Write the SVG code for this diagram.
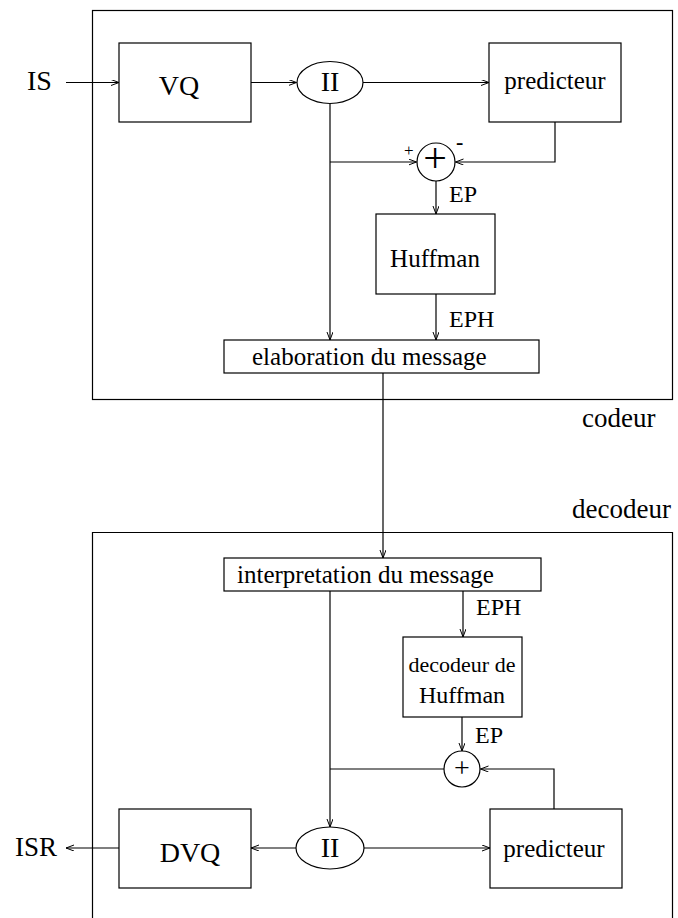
<svg xmlns="http://www.w3.org/2000/svg" width="678" height="918" viewBox="0 0 678 918">
<defs>
<marker id="arr" markerUnits="userSpaceOnUse" markerWidth="10" markerHeight="8" refX="8" refY="3" orient="auto">
<path d="M0,0 L8,3 L0,6" fill="none" stroke="#000" stroke-width="1"/>
</marker>
<style>
.b{fill:#fff;stroke:#000;stroke-width:1.2}
.c{fill:none;stroke:#000;stroke-width:1.2}
.w{fill:none;stroke:#000;stroke-width:1.2;marker-end:url(#arr)}
text{font-family:"Liberation Serif","Times New Roman",serif;fill:#000}
.L{font-size:28px}
.M{font-size:25px}
.S{font-size:24px}
.m{text-anchor:middle}
</style>
</defs>
<rect width="678" height="918" fill="#fff"/>
<g id="codeur">
<rect class="c" x="92.5" y="10.5" width="580" height="389"/>
<text class="L" x="582" y="427" style="font-size:27px">codeur</text>
</g>
<g id="decodeur">
<path class="c" d="M92.5,920 V532.5 H672.5 V920"/>
<text class="L" x="572" y="518" style="font-size:27px">decodeur</text>
</g>
<g id="connectors">
<line class="w" x1="66" y1="82.5" x2="119" y2="82.5"/>
<line class="w" x1="251" y1="82.5" x2="296.5" y2="82.5"/>
<line class="w" x1="363" y1="82.5" x2="489" y2="82.5"/>
<line class="w" x1="330" y1="104" x2="330" y2="340"/>
<line class="w" x1="330" y1="162" x2="416.5" y2="162"/>
<polyline class="w" points="555,122 555,162 455.5,162"/>
<line class="w" x1="436" y1="181" x2="436" y2="214"/>
<line class="w" x1="436" y1="294" x2="436" y2="340"/>
<line class="w" x1="383" y1="373" x2="383" y2="558"/>
<line class="w" x1="463" y1="591" x2="463" y2="637"/>
<line class="w" x1="462" y1="717" x2="462" y2="751"/>
<line class="w" x1="330" y1="591" x2="330" y2="827"/>
<line class="c" x1="330" y1="769" x2="444" y2="769"/>
<polyline class="w" points="554,809 554,769 480.5,769"/>
<line class="w" x1="296.5" y1="848" x2="251" y2="848"/>
<line class="w" x1="364" y1="848" x2="490" y2="848"/>
<line class="w" x1="119" y1="848" x2="66" y2="848"/>
</g>
<g id="IS"><text class="L" x="27" y="90">IS</text></g>
<g id="VQ">
<rect class="b" x="119" y="43" width="132" height="79"/>
<text class="L m" x="179" y="95">VQ</text>
</g>
<g id="II1">
<ellipse class="b" cx="330" cy="82.5" rx="33" ry="21"/>
<text class="L m" x="330" y="91">II</text>
</g>
<g id="pred1">
<rect class="b" x="489" y="43" width="132" height="79"/>
<text class="M m" x="555" y="89">predicteur</text>
</g>
<g id="sum1">
<circle class="b" cx="436" cy="162" r="19"/>
<text class="m" x="435" y="172" style="font-size:42px">+</text>
<text x="404" y="156" style="font-size:17px">+</text>
<text x="456" y="149" style="font-size:22px;font-weight:bold">-</text>
<text class="S" x="449" y="202">EP</text>
</g>
<g id="huffman">
<rect class="b" x="376" y="214" width="119" height="80"/>
<text class="M m" x="435" y="267">Huffman</text>
<text class="S" x="449" y="327">EPH</text>
</g>
<g id="elaboration">
<rect class="b" x="224" y="340" width="315" height="33"/>
<text class="M" x="252" y="365">elaboration du message</text>
</g>
<g id="interpretation">
<rect class="b" x="224" y="558" width="317" height="33"/>
<text class="M" x="237" y="583">interpretation du message</text>
<text class="S" x="476" y="615">EPH</text>
</g>
<g id="dechuff">
<rect class="b" x="403" y="637" width="119" height="80"/>
<text class="m" x="462" y="672" style="font-size:22px">decodeur de</text>
<text class="m" x="462" y="703" style="font-size:24px">Huffman</text>
<text class="S" x="475" y="743">EP</text>
</g>
<g id="sum2">
<circle class="b" cx="462" cy="769" r="18"/>
<text class="m" x="462" y="776.5" style="font-size:28px">+</text>
</g>
<g id="DVQ">
<rect class="b" x="119" y="809" width="132" height="79"/>
<text class="L m" x="190" y="862">DVQ</text>
</g>
<g id="II2">
<ellipse class="b" cx="330" cy="848" rx="34" ry="21"/>
<text class="L m" x="330" y="857">II</text>
</g>
<g id="pred2">
<rect class="b" x="490" y="809" width="132" height="79"/>
<text class="M m" x="554" y="857">predicteur</text>
</g>
<g id="ISR"><text class="L" x="15" y="856" style="font-size:27px">ISR</text></g>
</svg>
